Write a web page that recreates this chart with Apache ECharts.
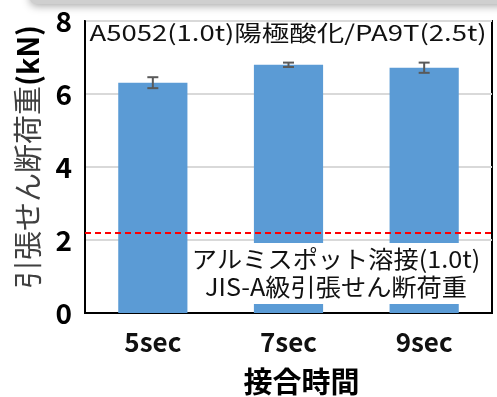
<!DOCTYPE html>
<html>
<head>
<meta charset="utf-8">
<script src="https://cdn.jsdelivr.net/npm/echarts@6/dist/echarts.min.js"></script>
<style>
  html, body { margin: 0; padding: 0; background: #fff; }
  #chart { width: 497px; height: 397px; }
</style>
</head>
<body>
<div id="chart"></div>
<script>
// Weld time categories and measured tensile shear loads (kN)
const categories = ['5sec', '7sec', '9sec'];
const loads = [6.31, 6.80, 6.72];
const loadErrors = [0.15, 0.06, 0.14];
// JIS class-A reference load for 1.0t aluminium spot welds
const jisClassA = 2.2;
const yTicks = [0, 2, 4, 6, 8];

const FONT = '"Noto Sans CJK JP", "Noto Sans", sans-serif';

const chart = echarts.init(document.getElementById('chart'));

const errorData = categories.map((c, i) => [i, loads[i] - loadErrors[i], loads[i] + loadErrors[i]]);

chart.setOption({
  animation: false,
  backgroundColor: '#fff',
  grid: {
    left: 85, right: 5, top: 21, bottom: 84,
    outerBoundsMode: 'none',
    containLabel: false,
    show: true, borderColor: '#000', borderWidth: 2, backgroundColor: 'transparent'
  },
  xAxis: {
    type: 'category',
    data: categories,
    name: '接合時間',
    nameLocation: 'middle',
    nameGap: 54,
    nameTextStyle: { fontFamily: FONT, fontSize: 29, fontWeight: 'bold', color: '#000', padding: [0, 0, 0, 26] },
    axisLine: { lineStyle: { color: '#000', width: 2 } },
    axisTick: { show: false },
    axisLabel: { fontFamily: FONT, fontSize: 26, fontWeight: 'bold', color: '#111', margin: 16 }
  },
  yAxis: {
    type: 'value',
    min: yTicks[0], max: yTicks[yTicks.length - 1], interval: 2,
    axisLine: { show: true, lineStyle: { color: '#000', width: 2 } },
    axisTick: { show: false },
    splitLine: { lineStyle: { color: '#d9d9d9', width: 2 } },
    axisLabel: { fontFamily: FONT, fontSize: 28, fontWeight: 'bold', color: '#000', margin: 13 }
  },
  series: [
    {
      type: 'bar',
      data: loads,
      barWidth: '51%',
      itemStyle: { color: '#5b9bd5' },
      markLine: {
        silent: true,
        symbol: 'none',
        label: { show: false },
        lineStyle: { color: '#ff0000', type: [6, 4], width: 2 },
        data: [{ yAxis: jisClassA }]
      }
    },
    {
      type: 'custom',
      z: 5,
      data: errorData,
      renderItem: function (params, api) {
        const x = api.value(0);
        const lo = api.coord([x, api.value(1)]);
        const hi = api.coord([x, api.value(2)]);
        const cap = 5.5;
        const style = { stroke: '#595959', lineWidth: 2 };
        return {
          type: 'group',
          children: [
            { type: 'line', shape: { x1: lo[0], y1: lo[1], x2: hi[0], y2: hi[1] }, style },
            { type: 'line', shape: { x1: lo[0] - cap, y1: lo[1], x2: lo[0] + cap, y2: lo[1] }, style },
            { type: 'line', shape: { x1: hi[0] - cap, y1: hi[1], x2: hi[0] + cap, y2: hi[1] }, style }
          ]
        };
      }
    }
  ],
  graphic: [
    // soft grey strip along the top edge
    {
      type: 'rect', z: 50,
      shape: { x: 30, y: -12, width: 480, height: 16, r: 6 },
      style: { fill: '#cfcfcf', shadowBlur: 8, shadowColor: 'rgba(0,0,0,0.35)', shadowOffsetY: 2 }
    },
    // vertical y-axis title
    {
      type: 'text', z: 60,
      x: 28, y: 157, rotation: Math.PI / 2,
      style: {
        text: '{a|引張せん断荷重}{b|(kN)}',
        align: 'center', verticalAlign: 'middle',
        rich: {
          a: { fontFamily: FONT, fontSize: 29, fill: '#404040' },
          b: { fontFamily: FONT, fontSize: 29, fontWeight: 'bold', fill: '#000' }
        }
      }
    },
    // heading inside the plot
    {
      type: 'text', z: 60,
      x: 288, y: 33, scaleX: 1.25,
      style: {
        text: 'A5052(1.0t)陽極酸化/PA9T(2.5t)',
        fontFamily: FONT, fontSize: 22, fill: '#111',
        align: 'center', verticalAlign: 'middle'
      }
    },
    // annotation for the red dashed reference line
    {
      type: 'rect', z: 60,
      shape: { x: 189, y: 243, width: 301, height: 61 },
      style: { fill: '#fff' }
    },
    {
      type: 'text', z: 61,
      x: 336, y: 273, scaleX: 1.05,
      style: {
        text: 'アルミスポット溶接(1.0t)\nJIS-A級引張せん断荷重',
        fontFamily: FONT, fontSize: 24, lineHeight: 28, fill: '#111',
        align: 'center', verticalAlign: 'middle'
      }
    }
  ]
});
</script>
</body>
</html>
